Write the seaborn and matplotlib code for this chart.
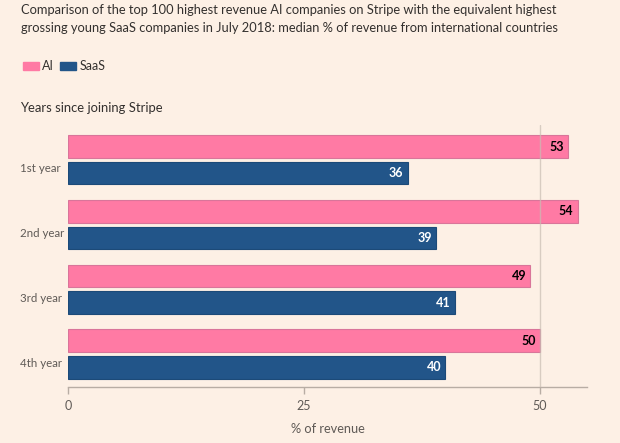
import pandas as pd
import numpy as np
import seaborn as sns
import matplotlib.pyplot as plt
import matplotlib.transforms as mtransforms
from matplotlib.patches import Patch

# datos
years = ['1st year', '2nd year', '3rd year', '4th year']
series = ['AI', 'SaaS']
ai_values = [53, 54, 49, 50]
saas_values = [36, 39, 41, 40]
x_ticks = [0, 25, 50]

title_lines = ["Comparison of the top 100 highest revenue AI companies on Stripe with the equivalent highest",
               "grossing young SaaS companies in July 2018: median % of revenue from international countries"]
subtitle = "Years since joining Stripe"
x_label = "% of revenue"

bg = '#FDF0E5'
pink = '#FF7AA4'
blue = '#225589'
dark = '#33302E'
grey = '#5F5A56'
axis_col = '#B8ADA4'

df = pd.DataFrame({
    'year': years * 2,
    'series': [series[0]] * 4 + [series[1]] * 4,
    'value': ai_values + saas_values,
})

sns.set_theme(style='white')
plt.rcParams['font.family'] = ['Lato', 'DejaVu Sans']

fig = plt.figure(figsize=(6.2, 4.43), dpi=100, facecolor=bg)
ax = fig.add_axes([68 / 620, 1 - 387 / 443, (587 - 68) / 620, (387 - 125) / 443])
ax.set_facecolor(bg)

sns.barplot(data=df, y='year', x='value', hue='series', orient='h',
            palette=[pink, blue], saturation=1, width=0.82, gap=0.15, legend=False,
            linewidth=0.8, ax=ax)

edge_cols = ['#D9759A', '#1C4A78']
text_cols = ['black', 'white']
for cont, ec, tc in zip(ax.containers, edge_cols, text_cols):
    for p in cont.patches:
        p.set_edgecolor(ec)
        w = p.get_width()
        ax.text(w - 0.45, p.get_y() + p.get_height() / 2, f'{w:.0f}',
                ha='right', va='center', color=tc, fontsize=9, fontweight='bold', zorder=5)

ax.set_xlim(0, 55)
ax.set_ylim(3.51, -0.54)
ax.axvline(50, color='#C9BDB3', lw=1, alpha=0.7, zorder=4)

for s in ['top', 'right', 'left']:
    ax.spines[s].set_visible(False)
ax.spines['bottom'].set_color(axis_col)
ax.spines['bottom'].set_linewidth(1)

ax.set_xticks(x_ticks)
ax.tick_params(axis='x', bottom=True, length=5, width=1, color=axis_col,
               labelsize=9, labelcolor=grey, pad=4)
ax.set_yticks([])
ax.set_ylabel('')
ax.set_xlabel(x_label, fontsize=9.2, color=grey, labelpad=8)

# etiquetas de categorias alineadas a la izquierda
offset = mtransforms.ScaledTranslation(0, -9 / 100, fig.dpi_scale_trans)
trans = mtransforms.blended_transform_factory(fig.transFigure, ax.transData) + offset
for i, yr in enumerate(years):
    ax.text(20 / 620, i, yr, transform=trans, ha='left', va='center',
            fontsize=8.3, color=grey)

for line, base in zip(title_lines, [14, 32]):
    fig.text(21 / 620, 1 - base / 443, line, ha='left', va='baseline', fontsize=9.25,
             color=dark)
fig.text(20 / 620, 1 - 108 / 443, subtitle, ha='left', va='center', fontsize=9.4, color=dark)

handles = [Patch(facecolor=pink, edgecolor=pink), Patch(facecolor=blue, edgecolor=blue)]
fig.legend(handles, series, loc='center left', bbox_to_anchor=(18 / 620, 1 - 66 / 443),
           ncol=2, frameon=False, fontsize=9, handlelength=1.3, handleheight=0.6,
           handletextpad=0.25, columnspacing=0.45, labelcolor=dark, borderaxespad=0)

fig.savefig('out.png', dpi=100, facecolor=bg)
